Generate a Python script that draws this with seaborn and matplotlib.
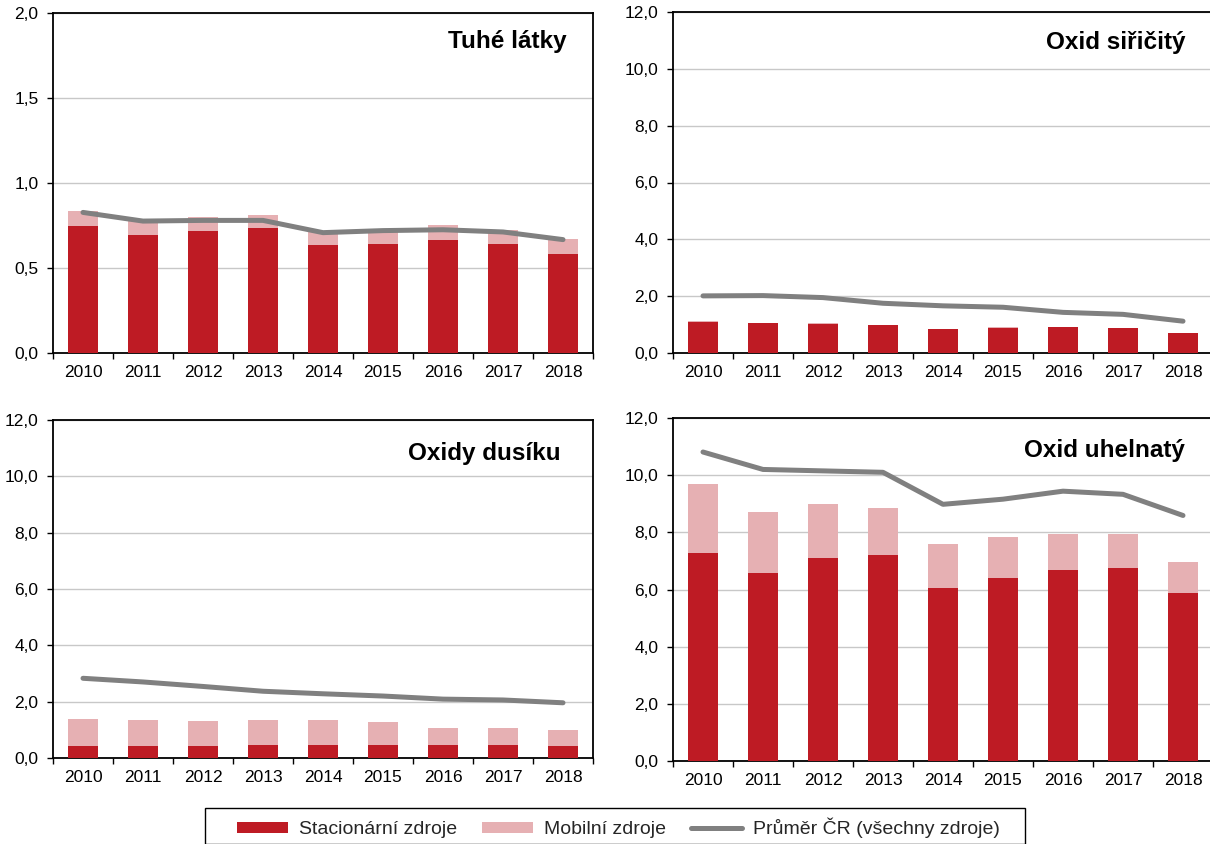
import numpy as np
import pandas as pd
import matplotlib
matplotlib.use("Agg")
import matplotlib.pyplot as plt
import seaborn as sns
from matplotlib.patches import Patch, Rectangle
from matplotlib.lines import Line2D
from matplotlib.ticker import FuncFormatter, FixedLocator

years = ["2010", "2011", "2012", "2013", "2014", "2015", "2016", "2017", "2018"]

# Tuhé látky
tl_stat = [0.75, 0.695, 0.72, 0.735, 0.635, 0.64, 0.665, 0.64, 0.58]
tl_total = [0.835, 0.775, 0.80, 0.812, 0.71, 0.725, 0.753, 0.725, 0.669]
tl_avg = [0.827, 0.776, 0.78, 0.78, 0.708, 0.72, 0.725, 0.712, 0.667]

# Oxid siřičitý
so_stat = [1.09, 1.05, 1.03, 0.97, 0.84, 0.89, 0.91, 0.87, 0.70]
so_total = [1.11, 1.07, 1.05, 0.99, 0.86, 0.91, 0.93, 0.89, 0.72]
so_avg = [2.01, 2.02, 1.95, 1.75, 1.66, 1.61, 1.43, 1.36, 1.12]

# Oxidy dusíku
nox_stat = [0.41, 0.41, 0.41, 0.46, 0.46, 0.45, 0.45, 0.46, 0.41]
nox_total = [1.40, 1.36, 1.33, 1.34, 1.34, 1.29, 1.07, 1.08, 0.99]
nox_avg = [2.83, 2.70, 2.54, 2.37, 2.28, 2.20, 2.09, 2.06, 1.96]

# Oxid uhelnatý
co_stat = [7.28, 6.58, 7.10, 7.20, 6.05, 6.41, 6.68, 6.74, 5.89]
co_total = [9.68, 8.70, 9.00, 8.85, 7.59, 7.84, 7.94, 7.94, 6.97]
co_avg = [10.81, 10.20, 10.15, 10.10, 8.98, 9.16, 9.44, 9.33, 8.59]

titles = ["Tuhé látky", "Oxid siřičitý", "Oxidy dusíku", "Oxid uhelnatý"]
ymax = [2.0, 12.0, 12.0, 12.0]
ystep = [0.5, 2.0, 2.0, 2.0]
legend_labels = ["Stacionární zdroje", "Mobilní zdroje", "Průměr ČR (všechny zdroje)"]

RED = "#BE1B24"
PINK = "#E6B0B3"
GRAY = "#808080"

sns.set_style("white")
plt.rcParams["font.family"] = ["Liberation Sans", "DejaVu Sans"]

fig = plt.figure(figsize=(12.1, 8.44), dpi=100)
W, H = 1210, 844
boxes = [(53, 593, 13, 353), (673, 1213, 12, 353), (53, 593, 420, 758), (673, 1213, 418, 761)]
title_right = [567, 1185, 561, 1185]
title_base = [48, 49, 460, 457]

data = [(tl_stat, tl_total, tl_avg), (so_stat, so_total, so_avg),
        (nox_stat, nox_total, nox_avg), (co_stat, co_total, co_avg)]

fmt = FuncFormatter(lambda v, p: f"{v:.1f}".replace(".", ","))

for i, ((l, r, t, b), (st, tot, avg)) in enumerate(zip(boxes, data)):
    ax = fig.add_axes([l / W, 1 - b / H, (r - l) / W, (b - t) / H])
    df = pd.DataFrame({"year": years, "stat": st, "total": tot, "avg": avg})
    sns.barplot(data=df, x="year", y="total", color=PINK, width=0.5,
                saturation=1, ax=ax, edgecolor="none", linewidth=0, zorder=2)
    sns.barplot(data=df, x="year", y="stat", color=RED, width=0.5,
                saturation=1, ax=ax, edgecolor="none", linewidth=0, zorder=3)
    sns.lineplot(x=np.arange(len(years)), y=avg, ax=ax, color=GRAY, lw=3.6,
                 solid_capstyle="round", zorder=4)
    ax.set_xlabel("")
    ax.set_ylabel("")
    ax.set_xlim(-0.5, len(years) - 0.5)
    ax.set_ylim(0, ymax[i])
    ax.set_yticks(np.arange(0, ymax[i] + 1e-9, ystep[i]))
    ax.yaxis.set_major_formatter(fmt)
    ax.set_xticks(np.arange(len(years)))
    ax.set_xticklabels(years)
    ax.xaxis.set_minor_locator(FixedLocator(np.arange(-0.5, len(years), 1.0)))
    ax.tick_params(axis="x", which="major", length=0, labelsize=12.5, pad=8.5, colors="black")
    ax.tick_params(axis="x", which="minor", length=4.5, width=1, direction="out", bottom=True, color="black")
    ax.tick_params(axis="y", which="major", length=4, width=1, direction="out", left=True,
                   labelsize=12.5, colors="black", pad=6.5)
    ax.grid(axis="y", color="#C8C8C8", lw=1, zorder=0)
    ax.set_axisbelow(True)
    for s in ax.spines.values():
        s.set_visible(True)
        s.set_color("black")
        s.set_linewidth(1.3)
    fig.text(title_right[i] / W, 1 - title_base[i] / H, titles[i], ha="right", va="baseline",
             fontsize=17.5, fontweight="bold", color="black")

# legend box
fig.patches.append(Rectangle((205 / W, 0), (1025 - 205) / W, 1 - 808 / H, transform=fig.transFigure,
                             facecolor="white", edgecolor="black", lw=1.0, zorder=5))

handles = [Patch(facecolor=RED, edgecolor="none"),
           Patch(facecolor=PINK, edgecolor="none"),
           Line2D([0], [0], color=GRAY, lw=3.6, solid_capstyle="round")]
leg = fig.legend(handles, legend_labels, loc="center", bbox_to_anchor=(618.5 / W, 1 - 828 / H),
                 ncol=3, frameon=False, fontsize=14,
                 handlelength=2.6, handleheight=0.45, columnspacing=1.3, handletextpad=0.57,
                 borderpad=0, borderaxespad=0)
leg.set_zorder(6)

fig.savefig("out.png", dpi=100)
